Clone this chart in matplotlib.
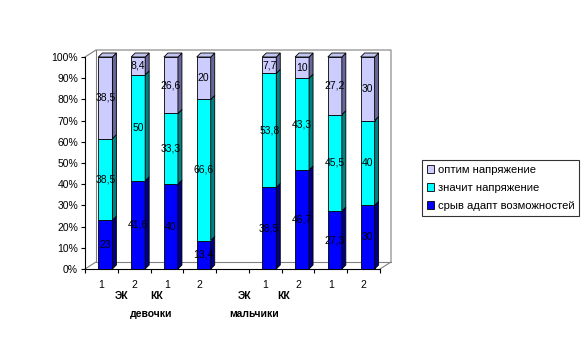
import matplotlib
matplotlib.use("Agg")
import matplotlib.pyplot as plt
from matplotlib.patches import Polygon, Patch
import numpy as np

plt.rcParams['font.family'] = ['Liberation Sans', 'DejaVu Sans']

# ---- data ----
tick_labels = ["1", "2", "1", "2", "", "1", "2", "1", "2"]
srv = [23, 41.6, 40, 13.4, None, 38.5, 46.7, 27.3, 30]        # срыв адапт возможностей
znach = [38.5, 50, 33.3, 66.6, None, 53.8, 43.3, 45.5, 40]     # значит напряжение
optim = [38.5, 8.4, 26.6, 20, None, 7.7, 10, 27.2, 30]         # оптим напряжение
labels_srv = ["23", "41,6", "40", "13,4", "", "38,5", "46,7", "27,3", "30"]
labels_znach = ["38,5", "50", "33,3", "66,6", "", "53,8", "43,3", "45,5", "40"]
labels_optim = ["38,5", "8,4", "26,6", "20", "", "7,7", "10", "27,2", "30"]
series_names = ["оптим напряжение", "значит напряжение", "срыв адапт возможностей"]
group_labels = ["ЭК", "КК", "девочки", "ЭК", "КК", "мальчики"]

# ---- style ----
W, H = 588, 348
fig = plt.figure(figsize=(W / 100, H / 100), dpi=100)
ax_l, ax_r, ax_b, ax_t = 85, 380, 269, 57
ax = fig.add_axes([ax_l / W, 1 - ax_b / H, (ax_r - ax_l) / W, (ax_b - ax_t) / H])
n = len(tick_labels)
ax.set_xlim(-0.5, n - 0.5)
ax.set_ylim(0, 100)
px_x = (n) / (ax_r - ax_l)        # data units per pixel (x)
px_y = 100 / (ax_b - ax_t)        # data units per pixel (y)

front_cols = ["#0000FF", "#00FFFF", "#CCCCFF"]
side_cols = ["#000080", "#008080", "#666699"]
top_col = "#C4C4F0"
bar_w = 14 * px_x
bar_off = 4 * px_x
bdx, bdy = 4 * px_x, 4 * px_y
wdx, wdy = 11 * px_x, 7 * px_y

# back wall / floor lines
gray = "#808080"
kw = dict(color=gray, lw=0.8, clip_on=False, zorder=1)
x0, x1 = -0.5, n - 0.5
ax.plot([x0, x0 + wdx, x1 + wdx, x1 + wdx, x1], [100, 100 + wdy, 100 + wdy, wdy, 0], **kw)
ax.plot([x0 + wdx, x0 + wdx, x1 + wdx], [100 + wdy, wdy, wdy], **kw)
ax.plot([x0, x0 + wdx], [0, wdy], **kw)

# bars
for i in range(n):
    if srv[i] is None:
        continue
    vals = np.array([srv[i], znach[i], optim[i]], dtype=float)
    vals = vals / vals.sum() * 100
    labs = [labels_srv[i], labels_znach[i], labels_optim[i]]
    xl = i + bar_off - bar_w / 2
    xr = xl + bar_w
    bottom = 0.0
    for k in range(3):
        top = bottom + vals[k]
        ax.bar(xl, vals[k], bottom=bottom, width=bar_w, align='edge',
               color=front_cols[k], edgecolor='black', linewidth=0.6, zorder=3)
        ax.add_patch(Polygon([(xr, bottom), (xr + bdx, bottom + bdy), (xr + bdx, top + bdy), (xr, top)],
                             closed=True, facecolor=side_cols[k], edgecolor='black',
                             linewidth=0.6, zorder=3, clip_on=False))
        ax.text(i + bar_off, bottom + vals[k] / 2, labs[k], ha='center', va='center',
                fontsize=7.5, zorder=5)
        bottom = top
    ax.add_patch(Polygon([(xl, 100), (xr, 100), (xr + bdx, 100 + bdy), (xl + bdx, 100 + bdy)],
                         closed=True, facecolor=top_col, edgecolor='black', linewidth=0.6,
                         zorder=3, clip_on=False))

# axes styling
for s in ['top', 'right']:
    ax.spines[s].set_visible(False)
ax.spines['left'].set_linewidth(0.8)
ax.spines['bottom'].set_linewidth(0.8)
ax.set_yticks(np.arange(0, 101, 10))
ax.set_yticklabels([f"{v}%" for v in range(0, 101, 10)], fontsize=7.5)
ax.tick_params(axis='y', length=3, width=0.8, pad=2)
ax.set_xticks(np.arange(n))
ax.set_xticklabels(tick_labels, fontsize=7.5)
ax.set_xticks(np.arange(n + 1) - 0.5, minor=True)
ax.tick_params(axis='x', which='major', length=0, pad=8)
ax.tick_params(axis='x', which='minor', length=3, width=0.8)
ax.patch.set_alpha(0)

# group labels
def ftext(x, y, s):
    fig.text(x / W, 1 - y / H, s, ha='center', va='center', fontsize=7.5, fontweight='bold')

ftext(122, 296, group_labels[0])
ftext(157, 296, group_labels[1])
ftext(151, 314, group_labels[2])
ftext(245, 296, group_labels[3])
ftext(284, 296, group_labels[4])
ftext(254, 314, group_labels[5])

# legend
handles = [Patch(facecolor=front_cols[2], edgecolor='black', linewidth=0.6),
           Patch(facecolor=front_cols[1], edgecolor='black', linewidth=0.6),
           Patch(facecolor=front_cols[0], edgecolor='black', linewidth=0.6)]
leg = fig.legend(handles, series_names, loc='upper left',
                 bbox_to_anchor=(422 / W, 1 - 160 / H), borderaxespad=0,
                 fontsize=8.1, frameon=True, fancybox=False, edgecolor='black',
                 handlelength=0.65, handleheight=0.65, handletextpad=0.3,
                 labelspacing=0.7, borderpad=0.45)
leg.get_frame().set_linewidth(0.8)

fig.savefig("out.png", dpi=100)
